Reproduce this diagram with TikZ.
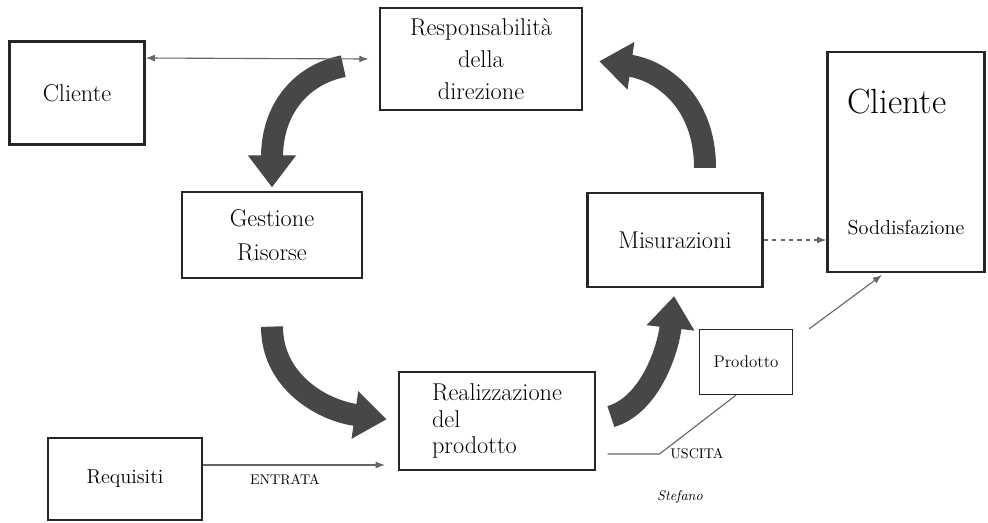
\documentclass[tikz,border=0pt]{standalone}
\usepackage{tikz}
\usetikzlibrary{arrows.meta}

\tikzset{
  box/.style={draw=black!85, line width=1.1pt},
  bigarrow/.style={draw=black!72, line width=0.55cm, -{Triangle[length=0.8cm,width=1.15cm]}},
  pencil/.style={draw=black!60, line width=0.8pt},
}

\begin{document}
\begin{tikzpicture}[x=0.025cm, y=-0.025cm, font=\LARGE]
    \useasboundingbox (0,0) rectangle (988,522);
    % boxes
    \node[box, line width=1.5pt, minimum width=3.375cm, minimum height=2.575cm] (clienteA) at (77,93) {Cliente};
    \node[box, line width=2pt, minimum width=5.05cm, minimum height=2.55cm, align=center] (resp) at (481,59) {Responsabilità\\[1pt]della\\[1pt]direzione};
    \node[box, line width=1.6pt, minimum width=3.925cm, minimum height=5.5cm, align=left, font=\Large] (clienteB) at (906,162) {{\Huge Cliente}\\[2.4cm]Soddisfazione};
    \node[box, line width=0.8pt, minimum width=4.5cm, minimum height=2.15cm, align=center] (gestione) at (272,235) {Gestione\\[2pt]Risorse};
    \node[box, line width=1.6pt, minimum width=4.375cm, minimum height=2.35cm] (misura) at (675,240) {Misurazioni};
    \node[box, line width=0.9pt, minimum width=2.325cm, minimum height=1.625cm, font=\large] (prodotto) at (746,362) {Prodotto};
    \node[box, line width=1.4pt, minimum width=4.875cm, minimum height=2.45cm, align=left] (realizz) at (497,421) {Realizzazione\\[-3pt]del\\[-3pt]prodotto};
    \node[box, line width=1.2pt, minimum width=3.85cm, minimum height=2.05cm, font=\Large] (requisiti) at (125,479) {Requisiti};
    % big curved arrows
    \draw[bigarrow, shorten <=0.9cm, shorten >=0.1cm] (resp.west) .. controls (300,75) and (272,110) .. (gestione.north);
    \draw[bigarrow, shorten <=1.2cm, shorten >=0.3cm] (gestione.south) .. controls (272,380) and (320,410) .. (realizz.west);
    \draw[bigarrow, shorten <=0.4cm, shorten >=0.2cm] (realizz.east) .. controls (650,405) and (668,350) .. (misura.south);
    \draw[bigarrow, shorten <=0.6cm, shorten >=0.4cm] ([xshift=0.75cm]misura.north) .. controls (705,100) and (660,70) .. (resp.east);
    % thin connectors
    \coordinate (entrata) at (385,465);
    \coordinate (freccia) at (882,275);
    \draw[pencil, {Latex}-{Latex}] (clienteA.east |- 0,58) -- ([xshift=-0.25cm]resp.west);
    \draw[pencil, dashed, -{Latex}] (misura.east) -- (clienteB.west |- misura.east);
    \draw[pencil, -{Latex}] (requisiti.east |- entrata) -- (entrata) node[pos=0.45, below=3pt, font=\normalsize] (ent) {ENTRATA};
    \draw[pencil] ([shift={(12,-17)}]realizz.south east) -- ++(52,0) node[right=4pt, font=\normalsize] (usc) {USCITA} -- ([xshift=-0.25cm]prodotto.south);
    \draw[pencil, -{Latex}] ([xshift=0.4cm]prodotto.north east) -- (freccia);
    \node[font=\normalsize\itshape] (firma) at (680,497) {Stefano};
\end{tikzpicture}
\end{document}
